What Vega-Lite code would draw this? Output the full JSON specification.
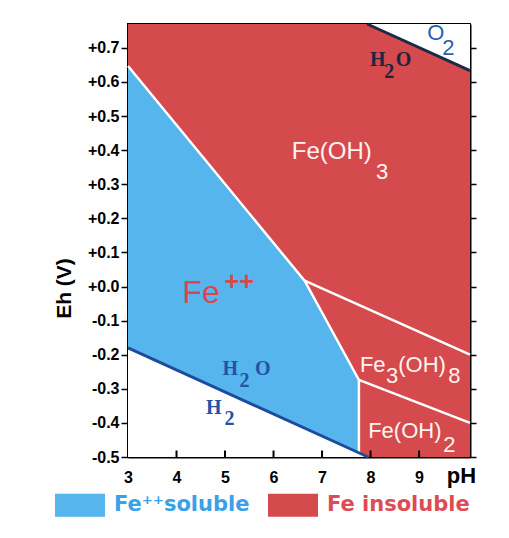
{
  "$schema": "https://vega.github.io/schema/vega-lite/v6.json",
  "width": 342,
  "height": 433,
  "autosize": "none",
  "padding": {"left": 128, "top": 24, "right": 39, "bottom": 81},
  "background": "white",
  "config": {"view": {"stroke": "black", "strokeWidth": 2}, "font": "Liberation Sans"},
  "datasets": {
    "bg": [{"x1": 3, "x2": 10.05, "y1": -0.5, "y2": 0.77, "region": "Fe insoluble"}],
    "blue": [
      {"pH": 3, "top": 0.647, "bot": -0.18, "region": "Fe++ soluble"},
      {"pH": 6.64, "top": 0.017, "bot": -0.417, "region": "Fe++ soluble"},
      {"pH": 7.76, "top": -0.274, "bot": -0.489, "region": "Fe++ soluble"}
    ],
    "white": [
      {"part": "H2", "pH": 3, "a": -0.18, "b": -0.5},
      {"part": "H2", "pH": 7.95, "a": -0.5, "b": -0.5},
      {"part": "O2", "pH": 7.93, "a": 0.77, "b": 0.77},
      {"part": "O2", "pH": 10.05, "a": 0.633, "b": 0.77}
    ],
    "bounds": [
      {"seg": "A", "i": 0, "pH": 3, "Eh": 0.647},
      {"seg": "A", "i": 1, "pH": 6.64, "Eh": 0.017},
      {"seg": "A", "i": 2, "pH": 7.76, "Eh": -0.274},
      {"seg": "A", "i": 3, "pH": 7.76, "Eh": -0.5},
      {"seg": "B", "i": 0, "pH": 6.64, "Eh": 0.017},
      {"seg": "B", "i": 1, "pH": 10.05, "Eh": -0.2},
      {"seg": "C", "i": 0, "pH": 7.76, "Eh": -0.274},
      {"seg": "C", "i": 1, "pH": 10.05, "Eh": -0.4}
    ],
    "h2line": [{"pH": 3, "Eh": -0.18}, {"pH": 7.95, "Eh": -0.5}],
    "o2line": [{"pH": 7.93, "Eh": 0.77}, {"pH": 10.05, "Eh": 0.633}],
    "xticks": [{"pH": 4, "Eh": -0.5}, {"pH": 5, "Eh": -0.5}, {"pH": 6, "Eh": -0.5}, {"pH": 7, "Eh": -0.5}, {"pH": 8, "Eh": -0.5}, {"pH": 9, "Eh": -0.5}],
    "fe3Text": [
      {"t": "Fe(OH)", "x": 6.375, "y": 0.394}
    ],
    "whiteText": [
      {"t": "3", "x": 8.11, "y": 0.335},
      {"t": "Fe", "x": 7.78, "y": -0.23},
      {"t": "3", "x": 8.32, "y": -0.262},
      {"t": "(OH)", "x": 8.57, "y": -0.23},
      {"t": "8", "x": 9.6, "y": -0.262},
      {"t": "Fe(OH)", "x": 7.95, "y": -0.423},
      {"t": "2", "x": 9.5, "y": -0.464}
    ],
    "feMain": [{"t": "Fe", "x": 4.12, "y": -0.02}],
    "feSup": [{"t": "++", "x": 4.99, "y": 0.012}],
    "blueSerif": [
      {"t": "H", "x": 4.95, "y": -0.242},
      {"t": "2", "x": 5.3, "y": -0.277},
      {"t": "O", "x": 5.62, "y": -0.242},
      {"t": "H", "x": 4.61, "y": -0.356},
      {"t": "2", "x": 4.99, "y": -0.39}
    ],
    "navySerif": [
      {"t": "H", "x": 7.99, "y": 0.665},
      {"t": "2", "x": 8.28, "y": 0.63},
      {"t": "O", "x": 8.52, "y": 0.665}
    ],
    "o2Text": [
      {"t": "O", "x": 9.17, "y": 0.743},
      {"t": "2", "x": 9.48, "y": 0.7}
    ]
  },
  "layer": [
    {
      "data": {"name": "bg"},
      "mark": {"type": "rect"},
      "encoding": {
        "x": {"field": "x1", "type": "quantitative", "scale": {"domain": [3, 10.05], "nice": false, "zero": false},
          "axis": {"values": [3, 4, 5, 6, 7, 8, 9], "format": "d", "labelFontSize": 16, "labelFontWeight": "bold", "labelColor": "black", "labelFlush": false,
            "ticks": false, "domainColor": "black", "domainWidth": 2, "grid": false, "labelPadding": 12,
            "title": "pH", "titleFontSize": 22, "titleFontWeight": "bold", "titleColor": "black", "titleX": 333, "titleY": 18, "titleAlign": "center", "titleBaseline": "middle"}},
        "x2": {"field": "x2"},
        "y": {"field": "y1", "type": "quantitative", "scale": {"domain": [-0.5, 0.77], "nice": false, "zero": false},
          "axis": {"orient": "left", "values": [-0.5, -0.4, -0.3, -0.2, -0.1, 0, 0.1, 0.2, 0.3, 0.4, 0.5, 0.6, 0.7],
            "labelExpr": "replace(format(datum.value, '+.1f'), '\u2212', '-')", "labelFontSize": 16, "labelFontWeight": "bold", "labelColor": "black",
            "tickSize": 7, "tickColor": "black", "tickWidth": 1.5, "domainColor": "black", "domainWidth": 2, "labelPadding": 2, "grid": false,
            "title": "Eh (V)", "titleFontSize": 21, "titleFontWeight": "bold", "titleColor": "black", "titleX": -64, "titleY": 264, "titleAlign": "center", "titleBaseline": "middle", "titleAngle": -90}},
        "y2": {"field": "y2"},
        "color": {"field": "region", "type": "nominal",
          "scale": {"domain": ["Fe++ soluble", "Fe insoluble"], "range": ["#55b5ec", "#d54a4c"]},
          "legend": {"orient": "none", "legendX": -73, "legendY": 456, "direction": "horizontal", "title": null,
            "symbolType": "M-1,-0.46H1V0.46H-1Z", "symbolSize": 2500, "symbolStrokeWidth": 0, "symbolOpacity": 1,
            "labelFontSize": 21, "labelFont": "DejaVu Sans", "labelFontWeight": "bold", "labelOffset": 9, "columnPadding": 18, "labelLimit": 300,
            "labelExpr": "datum.value == 'Fe++ soluble' ? 'Fe\u207a\u207asoluble' : 'Fe insoluble'",
            "labelColor": {"expr": "datum.value == 'Fe insoluble' ? '#e04a55' : '#3aa0e8'"}}}
      }
    },
    {
      "data": {"name": "blue"},
      "mark": {"type": "area", "opacity": 1},
      "encoding": {
        "x": {"field": "pH", "type": "quantitative"},
        "y": {"field": "top", "type": "quantitative", "axis": null},
        "y2": {"field": "bot"},
        "color": {"field": "region", "type": "nominal"}
      }
    },
    {
      "data": {"name": "white"},
      "mark": {"type": "area", "color": "white", "opacity": 1},
      "encoding": {
        "x": {"field": "pH", "type": "quantitative"},
        "y": {"field": "a", "type": "quantitative",
          "axis": {"orient": "right", "values": [-0.5, -0.4, -0.3, -0.2, -0.1, 0, 0.1, 0.2, 0.3, 0.4, 0.5, 0.6, 0.7], "labels": false, "tickSize": 6, "tickColor": "black", "tickWidth": 1.5, "domainColor": "black", "domainWidth": 2, "grid": false, "title": null}},
        "y2": {"field": "b"},
        "detail": {"field": "part"}
      }
    },
    {
      "data": {"name": "bounds"},
      "mark": {"type": "line", "color": "#ffffff", "strokeWidth": 2.5},
      "encoding": {
        "x": {"field": "pH", "type": "quantitative"},
        "y": {"field": "Eh", "type": "quantitative", "axis": null},
        "detail": {"field": "seg"},
        "order": {"field": "i"}
      }
    },
    {
      "data": {"name": "h2line"},
      "mark": {"type": "line", "color": "#1e4b9e", "strokeWidth": 3},
      "encoding": {
        "x": {"field": "pH", "type": "quantitative"},
        "y": {"field": "Eh", "type": "quantitative", "axis": null}
      }
    },
    {
      "data": {"name": "o2line"},
      "mark": {"type": "line", "color": "#1c2a45", "strokeWidth": 3},
      "encoding": {
        "x": {"field": "pH", "type": "quantitative"},
        "y": {"field": "Eh", "type": "quantitative", "axis": null}
      }
    },
    {
      "data": {"name": "xticks"},
      "mark": {"type": "rule", "color": "black", "strokeWidth": 2},
      "encoding": {
        "x": {"field": "pH", "type": "quantitative"},
        "y": {"field": "Eh", "type": "quantitative", "axis": null},
        "y2": {"datum": -0.481}
      }
    },
    {
      "data": {"name": "fe3Text"},
      "mark": {"type": "text", "align": "left", "baseline": "middle", "fontSize": 24, "font": "Liberation Sans", "color": "#fff4f0"},
      "encoding": {
        "x": {"field": "x", "type": "quantitative"},
        "y": {"field": "y", "type": "quantitative", "axis": null},
        "text": {"field": "t"}
      }
    },
    {
      "data": {"name": "whiteText"},
      "mark": {"type": "text", "align": "left", "baseline": "middle", "fontSize": 22, "font": "Liberation Sans", "color": "#fff4f0"},
      "encoding": {
        "x": {"field": "x", "type": "quantitative"},
        "y": {"field": "y", "type": "quantitative", "axis": null},
        "text": {"field": "t"}
      }
    },
    {
      "data": {"name": "feMain"},
      "mark": {"type": "text", "align": "left", "baseline": "middle", "fontSize": 32, "font": "Liberation Sans", "color": "#d9474a"},
      "encoding": {
        "x": {"field": "x", "type": "quantitative"},
        "y": {"field": "y", "type": "quantitative", "axis": null},
        "text": {"field": "t"}
      }
    },
    {
      "data": {"name": "feSup"},
      "mark": {"type": "text", "align": "left", "baseline": "middle", "fontSize": 25, "font": "Liberation Sans", "fontWeight": "bold", "color": "#d9474a"},
      "encoding": {
        "x": {"field": "x", "type": "quantitative"},
        "y": {"field": "y", "type": "quantitative", "axis": null},
        "text": {"field": "t"}
      }
    },
    {
      "data": {"name": "blueSerif"},
      "mark": {"type": "text", "align": "left", "baseline": "middle", "fontSize": 20, "font": "Liberation Serif", "fontWeight": "bold", "color": "#2352a8"},
      "encoding": {
        "x": {"field": "x", "type": "quantitative"},
        "y": {"field": "y", "type": "quantitative", "axis": null},
        "text": {"field": "t"}
      }
    },
    {
      "data": {"name": "navySerif"},
      "mark": {"type": "text", "align": "left", "baseline": "middle", "fontSize": 20, "font": "Liberation Serif", "fontWeight": "bold", "color": "#1c2540"},
      "encoding": {
        "x": {"field": "x", "type": "quantitative"},
        "y": {"field": "y", "type": "quantitative", "axis": null},
        "text": {"field": "t"}
      }
    },
    {
      "data": {"name": "o2Text"},
      "mark": {"type": "text", "align": "left", "baseline": "middle", "fontSize": 22, "font": "Liberation Sans", "color": "#2a60b4"},
      "encoding": {
        "x": {"field": "x", "type": "quantitative"},
        "y": {"field": "y", "type": "quantitative", "axis": null},
        "text": {"field": "t"}
      }
    }
  ],
  "resolve": {"axis": {"y": "independent"}}
}
